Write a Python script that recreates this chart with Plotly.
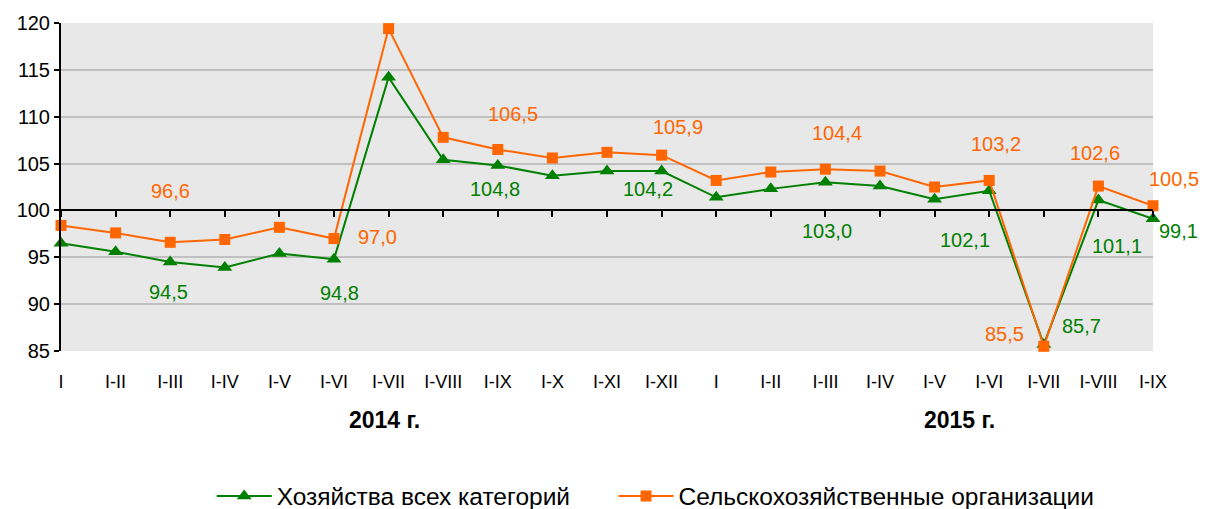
import plotly.graph_objects as go

categories = ["I", "I-II", "I-III", "I-IV", "I-V", "I-VI", "I-VII", "I-VIII", "I-IX", "I-X", "I-XI", "I-XII",
              "I", "I-II", "I-III", "I-IV", "I-V", "I-VI", "I-VII", "I-VIII", "I-IX"]
all_farms = [96.5, 95.6, 94.5, 93.9, 95.4, 94.8, 114.2, 105.4, 104.8, 103.7, 104.2, 104.2,
             101.4, 102.3, 103.0, 102.6, 101.2, 102.1, 85.7, 101.1, 99.1]
agri_orgs = [98.4, 97.6, 96.6, 96.9, 98.2, 97.0, 119.4, 107.8, 106.5, 105.6, 106.2, 105.9,
             103.2, 104.1, 104.4, 104.2, 102.5, 103.2, 85.5, 102.6, 100.5]
year_labels = ["2014 г.", "2015 г."]
series_names = ["Хозяйства всех категорий", "Сельскохозяйственные организации"]

GREEN = "#008000"
ORANGE = "#ff6600"
FONT = "Liberation Sans, Arial, sans-serif"

x = list(range(len(categories)))

fig = go.Figure()
fig.add_trace(go.Scatter(x=x, y=all_farms, name=series_names[0], mode="lines+markers",
                         line=dict(color=GREEN, width=2),
                         marker=dict(symbol="triangle-up", size=13, color=GREEN),
                         cliponaxis=False, legend="legend"))
fig.add_trace(go.Scatter(x=x, y=agri_orgs, name=series_names[1], mode="lines+markers",
                         line=dict(color=ORANGE, width=2),
                         marker=dict(symbol="square", size=11, color=ORANGE),
                         cliponaxis=False, legend="legend2"))
# invisible trace so the crossing axis at 100 renders
fig.add_trace(go.Scatter(x=x, y=[None] * len(x), xaxis="x2", showlegend=False,
                         hoverinfo="skip", mode="lines"))

# data labels: index -> (xshift, yshift)
orange_lbl = {2: (0, 51), 5: (43, 2), 8: (15, 36), 11: (16, 28), 14: (12, 36),
              17: (7, 36), 18: (-39, 12), 19: (-3, 33), 20: (21, 27)}
green_lbl = {2: (-2, -30), 5: (5, -34), 8: (-3, -24), 11: (-14, -18), 14: (2, -49),
             17: (-24, -49), 18: (38, 18), 19: (19, -46), 20: (25, -12)}

annotations = []
for vals, lbls, col in ((agri_orgs, orange_lbl, ORANGE), (all_farms, green_lbl, GREEN)):
    for i, (dx, dy) in lbls.items():
        annotations.append(dict(x=x[i], y=vals[i], xref="x", yref="y",
                                text=f"{vals[i]:.1f}".replace(".", ","),
                                showarrow=False, xshift=dx, yshift=dy,
                                xanchor="center", yanchor="middle",
                                font=dict(family=FONT, size=20, color=col)))
for xp, txt in zip([5.92, 16.45], year_labels):
    annotations.append(dict(x=xp, y=-0.21, xref="x", yref="paper", text=f"<b>{txt}</b>",
                            showarrow=False, xanchor="center", yanchor="middle",
                            font=dict(family=FONT, size=23, color="black")))

legend_style = dict(orientation="h", xanchor="left", y=-0.442, yanchor="middle",
                    font=dict(family=FONT, size=24.5, color="black"),
                    bgcolor="rgba(0,0,0,0)", itemwidth=55)

ymin, ymax = 85, 120
fig.update_layout(
    width=1199, height=501,
    margin=dict(l=53, r=54, t=15, b=158, autoexpand=False),
    paper_bgcolor="white", plot_bgcolor="#e8e8e8",
    font=dict(family=FONT, size=18, color="black"),
    showlegend=True,
    legend=dict(x=0.138, **legend_style),
    legend2=dict(x=0.506, **legend_style),
    xaxis=dict(range=[0, len(x) - 1], tickvals=x, ticktext=categories, automargin=False,
               showgrid=False, zeroline=False, showline=False, ticks="",
               ticklabelstandoff=18, tickfont=dict(family=FONT, size=18)),
    xaxis2=dict(range=[0, len(x) - 1], overlaying="x", anchor="free", automargin=False,
                position=(100 - ymin) / (ymax - ymin), tickvals=x, showticklabels=False,
                showgrid=False, zeroline=False, showline=True, linecolor="black", linewidth=2,
                ticks="outside", ticklen=6, tickwidth=2, tickcolor="black", side="bottom"),
    yaxis=dict(range=[ymin, ymax], tick0=85, dtick=5, showgrid=True, gridcolor="#c0c0c0",
               gridwidth=2, zeroline=False, showline=True, linecolor="black", linewidth=2,
               ticks="outside", ticklen=5, tickwidth=2, tickcolor="black", automargin=False,
               tickfont=dict(family=FONT, size=20)),
    annotations=annotations,
)

fig.write_html("out.html")
